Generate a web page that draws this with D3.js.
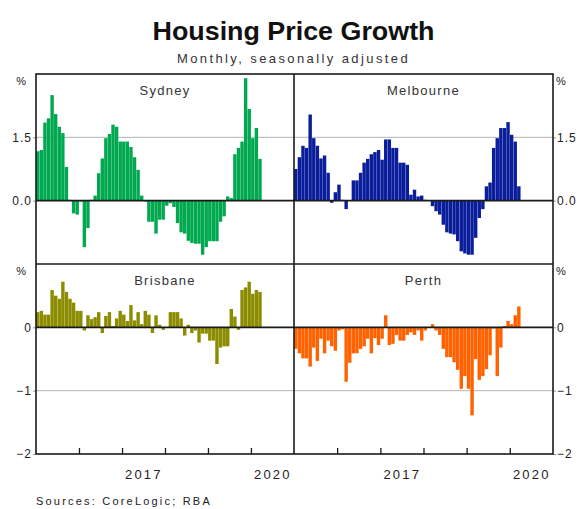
<!DOCTYPE html>
<html>
<head>
<meta charset="utf-8">
<script src="https://cdn.jsdelivr.net/npm/d3@7"></script>
<style>
  body { margin: 0; background: #fff; }
  svg { display: block; font-family: "Liberation Sans", Arial, sans-serif; }
</style>
</head>
<body>
<script>
// ---------- DATA (monthly % change, seasonally adjusted, Jan 2015 – Mar 2020) ----------
const startMonth = "2015-01";
const sydney = [1.17,1.2,1.85,1.95,2.5,2.05,1.75,1.6,0.8,0.02,
  -0.3,-0.33,-0.02,-1.1,-0.65,0.02,0.12,0.65,1.0,1.48,
  1.58,1.8,1.75,1.4,1.4,1.4,1.27,1.03,0.73,0.12,
  -0.02,-0.5,-0.5,-0.78,-0.45,-0.45,-0.12,-0.06,-0.15,-0.53,
  -0.75,-0.78,-0.95,-1.0,-1.02,-1.02,-1.28,-1.1,-0.96,-0.96,
  -0.96,-0.5,-0.37,0.1,0.06,1.1,1.25,1.4,2.9,2.17,
  1.48,1.72,0.99];
const melbourne = [0.75,1.03,1.3,1.25,2.04,1.48,1.3,1.0,1.07,0.66,
  -0.05,0.2,0.38,0.02,-0.2,0.0,0.48,0.48,0.66,0.9,
  0.99,1.1,1.15,1.2,0.97,1.45,1.45,1.25,1.25,0.9,
  0.9,0.85,0.14,0.26,0.1,0.12,0.02,0.0,-0.13,-0.25,
  -0.33,-0.57,-0.75,-0.78,-0.8,-0.96,-1.2,-1.25,-1.28,-1.28,
  -0.88,-0.41,-0.2,0.34,0.43,1.25,1.48,1.72,1.72,1.86,
  1.56,1.4,0.34];
const brisbane = [0.24,0.26,0.2,0.2,0.59,0.5,0.45,0.72,0.56,0.45,
  0.39,0.26,0.26,-0.05,0.19,0.13,0.16,0.24,-0.09,0.18,
  0.24,0.02,0.14,0.26,0.2,0.1,0.35,0.11,0.24,0.05,
  0.26,0.2,-0.09,0.19,0.04,-0.04,0.0,0.24,0.24,0.24,
  0.14,-0.13,0.04,-0.09,-0.05,-0.24,-0.1,-0.1,-0.21,-0.21,
  -0.58,-0.32,-0.3,-0.3,0.29,0.17,-0.04,0.59,0.63,0.72,
  0.53,0.59,0.56];
const perth = [-0.34,-0.41,-0.49,-0.49,-0.62,-0.32,-0.53,-0.18,-0.41,-0.21,
  -0.3,-0.37,-0.05,-0.03,-0.86,-0.56,-0.41,-0.41,-0.34,-0.3,
  -0.18,-0.41,-0.17,-0.28,-0.18,0.19,-0.28,-0.26,-0.12,-0.21,
  -0.21,-0.12,-0.08,-0.12,-0.05,-0.21,-0.05,0.0,0.05,-0.05,
  -0.12,-0.34,-0.47,-0.47,-0.55,-0.67,-0.97,-0.77,-0.97,-1.39,
  -0.5,-0.83,-0.77,-0.66,-0.44,-0.02,-0.77,-0.32,0.02,0.1,
  0.05,0.19,0.33];
const panelNames = ["Sydney", "Melbourne", "Brisbane", "Perth"];
const panelColors = ["#00a94f", "#0a1d9b", "#8c8c00", "#ff6200"];
const topTicks = [0, 1.5];
const bottomTicks = [0, -1, -2];
const topDomain = [-1.5, 3];
const bottomDomain = [-2, 1];
const yearTicks = [2016, 2017, 2018, 2019, 2020];
const yearLabels = [2017, 2020];
const title = "Housing Price Growth";
const subtitle = "Monthly, seasonally adjusted";
const source = "Sources: CoreLogic; RBA";

// ---------- LAYOUT ----------
const W = 577, H = 509;
const X0 = 36, XM = 294, X1 = 553;
const Y0 = 74, YM = 264, Y1 = 454;

const svg = d3.select("body").append("svg").attr("width", W).attr("height", H);

const parse = d3.utcParse("%Y-%m");
const t0 = parse(startMonth);
const tEnd = d3.utcYear.offset(t0, 6);
const months = d3.utcMonth.range(t0, tEnd);

const seriesList = [sydney, melbourne, brisbane, perth];
const panels = panelNames.map((name, i) => ({
  name, values: seriesList[i], color: panelColors[i],
  col: i % 2, row: Math.floor(i / 2)
}));

panels.forEach(p => {
  const xl = p.col === 0 ? X0 : XM;
  const xr = p.col === 0 ? XM : X1;
  const yt = p.row === 0 ? Y0 : YM;
  const yb = p.row === 0 ? YM : Y1;
  const x = d3.scaleBand().domain(months.map(d => +d)).range([xl, xr]).paddingInner(0.05).paddingOuter(0.02);
  const xt = d3.scaleUtc().domain([t0, tEnd]).range([xl, xr]);
  const y = d3.scaleLinear().domain(p.row === 0 ? topDomain : bottomDomain).range([yb, yt]);
  const g = svg.append("g");

  // grid line
  const gridVal = p.row === 0 ? 1.5 : -1;
  g.append("line").attr("x1", xl).attr("x2", xr).attr("y1", y(gridVal)).attr("y2", y(gridVal))
    .attr("stroke", "#b4b4b4").attr("stroke-width", 1);

  // bars
  const data = p.values.map((v, i) => ({ m: +months[i], v }));
  g.selectAll("rect").data(data).join("rect")
    .attr("x", d => x(d.m))
    .attr("width", x.bandwidth())
    .attr("y", d => y(Math.max(0, d.v)))
    .attr("height", d => Math.abs(y(d.v) - y(0)))
    .attr("fill", p.color);

  // zero line
  g.append("line").attr("x1", xl).attr("x2", xr).attr("y1", y(0)).attr("y2", y(0))
    .attr("stroke", "#1a1a1a").attr("stroke-width", 1.6);

  // panel title
  g.append("text").attr("x", (xl + xr) / 2).attr("y", yt + 21)
    .attr("text-anchor", "middle").attr("font-size", 13).attr("fill", "#333")
    .style("letter-spacing", "1.3px").text(p.name);

  // x ticks (bottom row)
  if (p.row === 1) {
    const ax = svg.append("g").attr("transform", `translate(0,${yb})`)
      .call(d3.axisBottom(xt).tickValues(yearTicks.map(yy => new Date(Date.UTC(yy, 0, 1))))
        .tickSize(-6).tickFormat(""));
    ax.select(".domain").remove();
    ax.selectAll("line").attr("stroke", "#1a1a1a").attr("stroke-width", 1.3);
    const lab = svg.append("g").attr("transform", `translate(0,${yb})`)
      .call(d3.axisBottom(xt).tickValues(yearLabels.map(yy => new Date(Date.UTC(yy, 6, 1))))
        .tickSize(0).tickPadding(16).tickFormat(d3.utcFormat("%Y")));
    lab.select(".domain").remove();
    lab.selectAll("text").attr("font-size", 13).attr("font-family", "Liberation Sans, Arial, sans-serif")
      .attr("fill", "#222").style("letter-spacing", "2.2px");
  }

  // y axes
  if (p.col === 0) {
    const ay = svg.append("g").attr("transform", `translate(${X0},0)`)
      .call(d3.axisLeft(y).tickValues(p.row === 0 ? topTicks : bottomTicks).tickSize(3).tickPadding(1)
        .tickFormat(p.row === 0 ? d3.format(".1f") : d3.format("d")));
    ay.select(".domain").remove();
    ay.selectAll("line").attr("stroke", "#999");
    ay.selectAll("text").attr("font-size", 12).attr("font-family", "Liberation Sans, Arial, sans-serif")
      .attr("fill", "#222").style("letter-spacing", "1px");
    svg.append("text").attr("x", 26).attr("y", yt + 11).attr("text-anchor", "end")
      .attr("font-size", 11).attr("fill", "#222").text("%");
  } else {
    const ay = svg.append("g").attr("transform", `translate(${X1},0)`)
      .call(d3.axisRight(y).tickValues(p.row === 0 ? topTicks : bottomTicks).tickSize(3).tickPadding(1)
        .tickFormat(p.row === 0 ? d3.format(".1f") : d3.format("d")));
    ay.select(".domain").remove();
    ay.selectAll("line").attr("stroke", "#999");
    ay.selectAll("text").attr("font-size", 12).attr("font-family", "Liberation Sans, Arial, sans-serif")
      .attr("fill", "#222").style("letter-spacing", "1px");
    svg.append("text").attr("x", 556).attr("y", yt + 11).attr("text-anchor", "start")
      .attr("font-size", 11).attr("fill", "#222").text("%");
  }
});

// borders
const bc = "#1a1a1a";
svg.append("rect").attr("x", X0).attr("y", Y0).attr("width", X1 - X0).attr("height", Y1 - Y0)
  .attr("fill", "none").attr("stroke", bc).attr("stroke-width", 1.6);
svg.append("line").attr("x1", XM).attr("x2", XM).attr("y1", Y0).attr("y2", Y1).attr("stroke", bc).attr("stroke-width", 1.6);
svg.append("line").attr("x1", X0).attr("x2", X1).attr("y1", YM).attr("y2", YM).attr("stroke", bc).attr("stroke-width", 1.6);

// titles
svg.append("text").attr("x", 293.5).attr("y", 40).attr("text-anchor", "middle")
  .attr("font-size", 26).attr("font-weight", "bold").attr("fill", "#111")
  .attr("textLength", 282).attr("lengthAdjust", "spacingAndGlyphs").text(title);
svg.append("text").attr("x", 293.5).attr("y", 63).attr("text-anchor", "middle")
  .attr("font-size", 13).attr("fill", "#333").style("letter-spacing", "2.4px").text(subtitle);
svg.append("text").attr("x", 36).attr("y", 505).attr("font-size", 11).attr("fill", "#222")
  .style("letter-spacing", "2.2px").text(source);
</script>
</body>
</html>
